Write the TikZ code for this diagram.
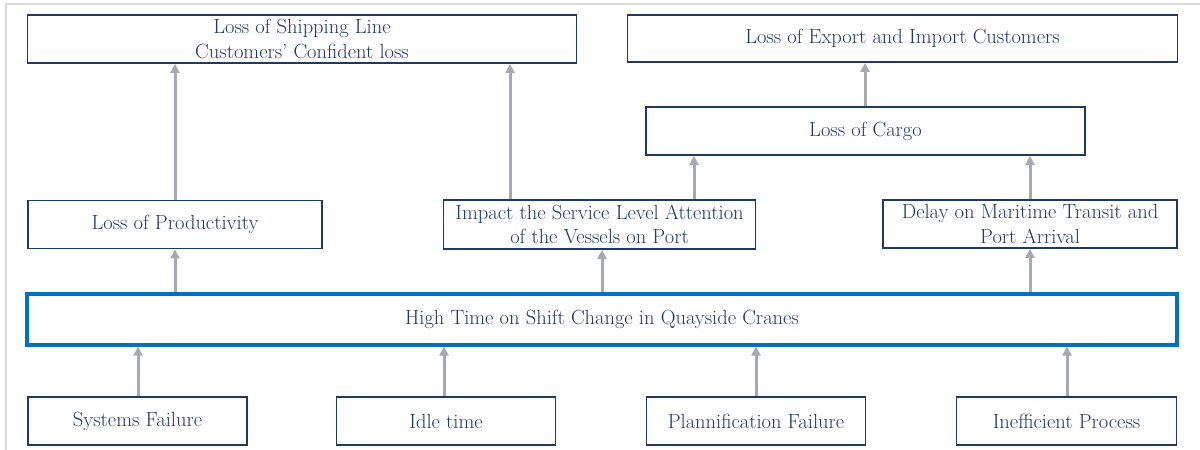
\documentclass[tikz,border=0pt]{standalone}
\usetikzlibrary{arrows.meta}
\definecolor{navy}{HTML}{1F3864}
\definecolor{mainblue}{HTML}{0070C0}
\definecolor{arrgray}{HTML}{A6A9AD}
\definecolor{framegray}{HTML}{DADADA}
\begin{document}
\begin{tikzpicture}[x=1pt,y=-1pt,
  box/.style={draw=navy,line width=1.8pt,fill=white,text=navy,inner sep=0pt,align=center,
    font=\fontsize{20.5}{24.5}\selectfont},
  mainbox/.style={box,draw=mainblue,line width=3.2pt},
  arr/.style={draw=arrgray,line width=3pt,-{Triangle[length=9pt,width=9pt]}}]
\useasboundingbox (0,0) rectangle (1200,450);
\draw[framegray,line width=2pt] (6,450) -- (6,4) -- (1200,4);
% top row
\node[box,minimum width=549pt,minimum height=48pt] (A) at (302,39) {Loss of Shipping Line\\Customers’ Confident loss};
\node[box,minimum width=550pt,minimum height=47pt] (B) at (902.5,38.5) {Loss of Export and Import Customers};
\node[box,minimum width=439pt,minimum height=48pt] (C) at (865.5,131) {Loss of Cargo};
% middle row
\node[box,minimum width=294pt,minimum height=48pt] (D) at (175,224.5) {Loss of Productivity};
\node[box,minimum width=312pt,minimum height=49pt] (E) at (599.5,224.5) {Impact the Service Level Attention\\of the Vessels on Port};
\node[box,minimum width=294pt,minimum height=48pt] (F) at (1030,224) {Delay on Maritime Transit and\\Port Arrival};
% main
\node[mainbox,minimum width=1150pt,minimum height=51pt] (M) at (602,319.5) {High Time on Shift Change in Quayside Cranes};
% bottom
\node[box,minimum width=219pt,minimum height=48pt] (S1) at (137.5,421) {Systems Failure};
\node[box,minimum width=219pt,minimum height=48pt] (S2) at (446,421) {Idle time};
\node[box,minimum width=219pt,minimum height=48pt] (S3) at (756,421) {Plannification Failure};
\node[box,minimum width=220pt,minimum height=48pt] (S4) at (1066.5,421) {Inefficient Process};
% arrow x positions
\coordinate (x175) at (175,0);
\coordinate (x510) at (510,0);
\coordinate (x694) at (694,0);
\coordinate (x1030) at (1030,0);
\coordinate (x865) at (865,0);
\coordinate (x602) at (602,0);
\coordinate (x138) at (138,0);
\coordinate (x444) at (444,0);
\coordinate (x756) at (756,0);
\coordinate (x1067) at (1067,0);
% arrows
\draw[arr] (D.north -| x175) -- (A.south -| x175);
\draw[arr] (E.north -| x510) -- (A.south -| x510);
\draw[arr] (E.north -| x694) -- (C.south -| x694);
\draw[arr] (F.north -| x1030) -- (C.south -| x1030);
\draw[arr] (C.north -| x865) -- (B.south -| x865);
\draw[arr] (M.north -| x175) -- (D.south -| x175);
\draw[arr] (M.north -| x602) -- (E.south -| x602);
\draw[arr] (M.north -| x1030) -- (F.south -| x1030);
\draw[arr] (S1.north -| x138) -- (M.south -| x138);
\draw[arr] (S2.north -| x444) -- (M.south -| x444);
\draw[arr] (S3.north -| x756) -- (M.south -| x756);
\draw[arr] (S4.north -| x1067) -- (M.south -| x1067);
\end{tikzpicture}
\end{document}
